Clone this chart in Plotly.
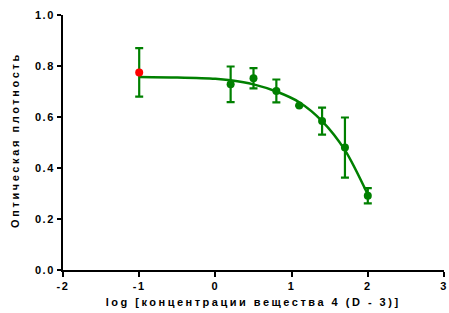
import plotly.graph_objects as go

# measured points
log_conc = [-1.0, 0.2, 0.5, 0.8, 1.1, 1.4, 1.7, 2.0]
od_mean = [0.775, 0.728, 0.752, 0.702, 0.645, 0.584, 0.480, 0.291]
od_err = [0.095, 0.070, 0.040, 0.045, None, 0.053, 0.118, 0.030]
point_colors = ["#ff0000", "#008000", "#008000", "#008000", "#008000", "#008000", "#008000", "#008000"]

# fitted curve
curve_x = [-1.0, -0.5, 0.0, 0.2, 0.5, 0.8, 1.1, 1.4, 1.7, 2.0]
curve_y = [0.757, 0.755, 0.750, 0.744, 0.728, 0.700, 0.658, 0.584, 0.470, 0.296]

x_ticks = [-2, -1, 0, 1, 2, 3]
y_ticks = [0.0, 0.2, 0.4, 0.6, 0.8, 1.0]

x_title = "log [концентрации вещества 4 (D - 3)]"
y_title = "Оптическая плотность"

GREEN = "#008000"
font_family = "Liberation Sans, Arial, sans-serif"

fig = go.Figure()

fig.add_trace(go.Scatter(
    x=curve_x, y=curve_y, mode="lines",
    line=dict(color=GREEN, width=2.5, shape="spline", smoothing=0.8),
    hoverinfo="skip", showlegend=False,
))

fig.add_trace(go.Scatter(
    x=log_conc, y=od_mean, mode="markers",
    marker=dict(color=point_colors, size=8, line=dict(width=0)),
    error_y=dict(type="data", array=od_err, visible=True,
                 color=GREEN, thickness=2.2, width=4),
    showlegend=False,
))

fig.update_layout(
    width=449, height=313,
    margin=dict(l=63, r=5, t=15, b=43),
    plot_bgcolor="white", paper_bgcolor="white",
    font=dict(family=font_family, size=11, color="black"),
    xaxis=dict(
        range=[-2, 3], tickvals=x_ticks, ticktext=[str(v) for v in x_ticks],
        showgrid=False, zeroline=False, automargin=False,
        showline=True, linecolor="black", linewidth=2,
        ticks="outside", ticklen=5, tickwidth=2, tickcolor="black",
        tickfont=dict(size=11, family=font_family, weight="bold"),
    ),
    yaxis=dict(
        range=[0, 1], tickvals=y_ticks, tickformat=".1f",
        showgrid=False, zeroline=False, automargin=False,
        showline=True, linecolor="black", linewidth=2,
        ticks="outside", ticklen=4, tickwidth=2, tickcolor="black",
        tickfont=dict(size=11, family=font_family, weight="bold"),
    ),
    annotations=[
        dict(text="<b>" + x_title + "</b>", xref="paper", yref="paper",
             x=0.5, y=-0.125, xanchor="center", yanchor="middle",
             showarrow=False, font=dict(size=11, family=font_family)),
        dict(text="<b>" + y_title + "</b>", xref="paper", yref="paper",
             x=-0.126, y=0.51, xanchor="center", yanchor="middle", textangle=-90,
             showarrow=False, font=dict(size=11, family=font_family)),
    ],
)

post = """
document.body.style.margin='0';document.body.style.padding='0';
document.querySelectorAll('.xtick text, .ytick text').forEach(function(e){e.style.letterSpacing='1.5px';});
var ann = document.querySelectorAll('.annotation-text');
if (ann[0]) ann[0].style.letterSpacing='2.5px';
if (ann[1]) ann[1].style.letterSpacing='2.6px';
"""

fig.write_html("out.html", config={"displayModeBar": False}, post_script=post)
